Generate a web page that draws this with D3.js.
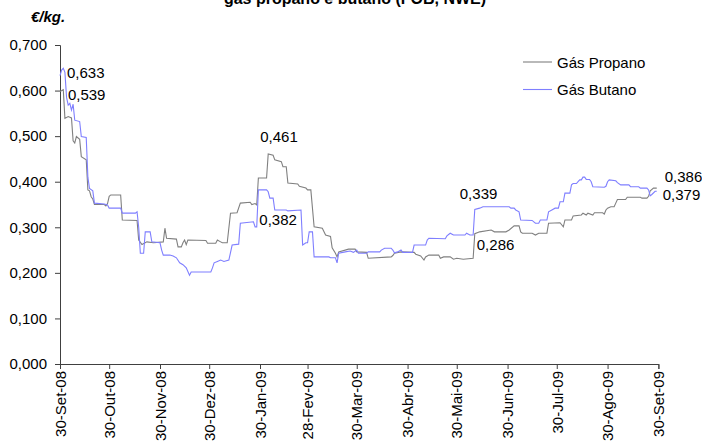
<!DOCTYPE html>
<html>
<head>
<meta charset="utf-8">
<script src="https://cdn.jsdelivr.net/npm/d3@7"></script>
<style>
  html, body { margin: 0; padding: 0; background: #fff; }
  svg { display: block; font-family: "Liberation Sans", Arial, sans-serif; }
</style>
</head>
<body>
<svg id="chart" width="702" height="443"></svg>
<script>
// Daily quotes, €/kg (FOB, NWE)
const propano = [
  ["2008-09-30",0.598],["2008-10-02",0.602],["2008-10-03",0.539],["2008-10-05",0.543],
  ["2008-10-07",0.540],["2008-10-08",0.490],["2008-10-09",0.485],["2008-10-10",0.499],
  ["2008-10-12",0.493],["2008-10-13",0.455],["2008-10-16",0.448],["2008-10-17",0.382],
  ["2008-10-18",0.380],["2008-10-19",0.367],["2008-10-20",0.362],["2008-10-21",0.350],
  ["2008-10-27",0.350],["2008-10-28",0.347],["2008-10-29",0.352],["2008-10-30",0.368],
  ["2008-10-31",0.371],["2008-11-06",0.371],["2008-11-07",0.316],["2008-11-16",0.315],
  ["2008-11-17",0.272],["2008-11-19",0.262],["2008-11-22",0.268],["2008-11-26",0.266],
  ["2008-12-02",0.268],["2008-12-03",0.298],["2008-12-04",0.276],["2008-12-10",0.274],
  ["2008-12-11",0.257],["2008-12-13",0.257],["2008-12-14",0.266],["2008-12-15",0.272],
  ["2008-12-16",0.262],["2008-12-17",0.272],["2008-12-28",0.271],["2008-12-29",0.265],
  ["2009-01-03",0.265],["2009-01-04",0.272],["2009-01-06",0.268],["2009-01-07",0.266],
  ["2009-01-10",0.266],["2009-01-12",0.331],["2009-01-16",0.332],["2009-01-18",0.353],
  ["2009-01-24",0.355],["2009-01-25",0.350],["2009-01-27",0.352],["2009-01-28",0.349],
  ["2009-01-29",0.408],["2009-02-03",0.408],["2009-02-04",0.461],["2009-02-07",0.458],
  ["2009-02-08",0.448],["2009-02-12",0.444],["2009-02-13",0.433],["2009-02-15",0.433],
  ["2009-02-16",0.397],["2009-02-22",0.395],["2009-02-23",0.390],["2009-02-27",0.386],
  ["2009-02-28",0.382],["2009-03-02",0.382],["2009-03-04",0.301],["2009-03-09",0.298],
  ["2009-03-11",0.283],["2009-03-14",0.280],["2009-03-15",0.255],["2009-03-17",0.243],
  ["2009-03-18",0.235],["2009-03-19",0.246],["2009-03-25",0.252],["2009-03-29",0.252],
  ["2009-03-30",0.246],["2009-04-05",0.245],["2009-04-06",0.232],["2009-04-20",0.235],
  ["2009-04-21",0.238],["2009-04-22",0.243],["2009-04-26",0.246],["2009-05-04",0.245],
  ["2009-05-05",0.241],["2009-05-08",0.237],["2009-05-10",0.228],["2009-05-11",0.235],
  ["2009-05-13",0.239],["2009-05-19",0.239],["2009-05-20",0.232],["2009-05-22",0.235],
  ["2009-05-26",0.235],["2009-05-28",0.230],["2009-05-30",0.232],["2009-06-03",0.230],
  ["2009-06-09",0.232],["2009-06-10",0.286],["2009-06-13",0.290],["2009-06-20",0.294],
  ["2009-06-22",0.290],["2009-06-29",0.290],["2009-07-01",0.294],["2009-07-04",0.303],
  ["2009-07-07",0.303],["2009-07-08",0.290],["2009-07-09",0.287],["2009-07-15",0.287],
  ["2009-07-17",0.283],["2009-07-19",0.287],["2009-07-24",0.287],["2009-07-25",0.309],
  ["2009-08-01",0.310],["2009-08-03",0.301],["2009-08-04",0.316],["2009-08-08",0.316],
  ["2009-08-09",0.325],["2009-08-14",0.327],["2009-08-15",0.331],["2009-08-17",0.327],
  ["2009-08-18",0.331],["2009-08-21",0.327],["2009-08-22",0.332],["2009-08-27",0.332],
  ["2009-08-28",0.329],["2009-08-29",0.338],["2009-08-30",0.342],["2009-09-01",0.345],
  ["2009-09-03",0.345],["2009-09-04",0.353],["2009-09-05",0.361],["2009-09-10",0.361],
  ["2009-09-11",0.366],["2009-09-19",0.366],["2009-09-20",0.364],["2009-09-23",0.364],
  ["2009-09-24",0.368],["2009-09-25",0.380],["2009-09-27",0.386],["2009-09-29",0.386]
];

const butano = [
  ["2008-09-30",0.633],["2008-10-01",0.645],["2008-10-02",0.649],["2008-10-03",0.640],
  ["2008-10-04",0.585],["2008-10-05",0.568],["2008-10-06",0.572],["2008-10-07",0.557],
  ["2008-10-08",0.570],["2008-10-09",0.535],["2008-10-12",0.532],["2008-10-13",0.499],
  ["2008-10-16",0.497],["2008-10-17",0.410],["2008-10-18",0.385],["2008-10-20",0.380],
  ["2008-10-21",0.353],["2008-10-27",0.351],["2008-10-29",0.349],["2008-10-30",0.342],
  ["2008-11-06",0.342],["2008-11-07",0.331],["2008-11-15",0.331],["2008-11-16",0.334],
  ["2008-11-17",0.300],["2008-11-18",0.243],["2008-11-20",0.243],["2008-11-21",0.290],
  ["2008-11-24",0.290],["2008-11-25",0.268],["2008-11-30",0.266],["2008-12-01",0.250],
  ["2008-12-02",0.239],["2008-12-06",0.239],["2008-12-08",0.237],["2008-12-10",0.233],
  ["2008-12-12",0.222],["2008-12-14",0.218],["2008-12-16",0.211],["2008-12-18",0.195],
  ["2008-12-19",0.202],["2008-12-31",0.202],["2009-01-01",0.211],["2009-01-02",0.222],
  ["2009-01-04",0.225],["2009-01-06",0.228],["2009-01-08",0.225],["2009-01-11",0.228],
  ["2009-01-13",0.261],["2009-01-17",0.263],["2009-01-18",0.309],["2009-01-26",0.312],
  ["2009-01-27",0.301],["2009-01-28",0.301],["2009-01-29",0.382],["2009-02-03",0.382],
  ["2009-02-04",0.378],["2009-02-05",0.364],["2009-02-07",0.364],["2009-02-08",0.338],
  ["2009-02-15",0.338],["2009-02-16",0.336],["2009-02-24",0.338],["2009-02-25",0.261],
  ["2009-02-27",0.266],["2009-02-28",0.266],["2009-03-01",0.290],["2009-03-03",0.290],
  ["2009-03-04",0.235],["2009-03-13",0.235],["2009-03-14",0.233],["2009-03-17",0.233],
  ["2009-03-18",0.222],["2009-03-19",0.243],["2009-03-23",0.246],["2009-03-26",0.248],
  ["2009-03-28",0.245],["2009-03-30",0.250],["2009-03-31",0.243],["2009-04-05",0.243],
  ["2009-04-06",0.246],["2009-04-13",0.246],["2009-04-14",0.250],["2009-04-16",0.254],
  ["2009-04-20",0.254],["2009-04-21",0.250],["2009-04-22",0.244],["2009-04-24",0.246],
  ["2009-04-26",0.250],["2009-04-27",0.245],["2009-05-03",0.245],["2009-05-04",0.261],
  ["2009-05-11",0.261],["2009-05-12",0.272],["2009-05-13",0.276],["2009-05-23",0.275],
  ["2009-05-24",0.281],["2009-05-26",0.287],["2009-05-28",0.283],["2009-06-04",0.283],
  ["2009-06-05",0.287],["2009-06-07",0.283],["2009-06-09",0.283],["2009-06-10",0.339],
  ["2009-06-13",0.342],["2009-06-15",0.345],["2009-07-01",0.345],["2009-07-02",0.342],
  ["2009-07-04",0.342],["2009-07-05",0.338],["2009-07-07",0.334],["2009-07-08",0.316],
  ["2009-07-15",0.315],["2009-07-16",0.312],["2009-07-17",0.309],["2009-07-19",0.309],
  ["2009-07-20",0.316],["2009-07-24",0.316],["2009-07-25",0.334],["2009-07-27",0.338],
  ["2009-07-29",0.342],["2009-07-31",0.342],["2009-08-01",0.356],["2009-08-03",0.356],
  ["2009-08-04",0.375],["2009-08-07",0.375],["2009-08-08",0.393],["2009-08-09",0.396],
  ["2009-08-11",0.396],["2009-08-12",0.400],["2009-08-13",0.404],["2009-08-14",0.404],
  ["2009-08-15",0.410],["2009-08-16",0.410],["2009-08-17",0.405],["2009-08-19",0.405],
  ["2009-08-20",0.400],["2009-08-21",0.389],["2009-08-28",0.388],["2009-08-29",0.390],
  ["2009-08-30",0.400],["2009-08-31",0.404],["2009-09-04",0.402],["2009-09-05",0.398],
  ["2009-09-07",0.393],["2009-09-12",0.393],["2009-09-13",0.389],["2009-09-18",0.389],
  ["2009-09-19",0.386],["2009-09-23",0.386],["2009-09-24",0.382],["2009-09-25",0.369],
  ["2009-09-26",0.372],["2009-09-28",0.379],["2009-09-29",0.379]
];

const seriesNames = ["Gás Propano", "Gás Butano"];
const seriesColors = ["#808080", "#7f7fff"];

// Axis ticks
const xTickDates = ["2008-09-30","2008-10-30","2008-11-30","2008-12-30","2009-01-30","2009-02-28",
  "2009-03-30","2009-04-30","2009-05-30","2009-06-30","2009-07-30","2009-08-30","2009-09-30"];
const xTickLabels = ["30-Set-08","30-Out-08","30-Nov-08","30-Dez-08","30-Jan-09","28-Fev-09",
  "30-Mar-09","30-Abr-09","30-Mai-09","30-Jun-09","30-Jul-09","30-Ago-09","30-Set-09"];
const yTicks = [0, 0.1, 0.2, 0.3, 0.4, 0.5, 0.6, 0.7];

// Points that carry a value label: series index and date
const labelPoints = [
  [1, "2008-09-30"], [0, "2008-10-03"], [0, "2009-02-04"], [1, "2009-01-29"],
  [1, "2009-06-10"], [0, "2009-06-10"], [0, "2009-09-29"], [1, "2009-09-29"]
];
// label placement relative to its point (dx, dy)
const labelOffsets = [[7, -3], [3, -24], [-8, -17], [1, 30], [-15, -16], [2, 11], [8, -12], [6, 3]];

const parse = d3.timeParse("%Y-%m-%d");
const series = [propano, butano].map(s => s.map(([d, v]) => ({ date: parse(d), value: v })));

const ptLocale = d3.formatLocale({ decimal: ",", thousands: ".", grouping: [3], currency: ["", " €"] });
const fmt = ptLocale.format(".3f");

const svg = d3.select("#chart");
const x = d3.scaleTime()
  .domain([parse(xTickDates[0]), parse(xTickDates[xTickDates.length - 1])])
  .range([60, 658.4]);
const y = d3.scaleLinear().domain([0, 0.7]).range([364, 45]);

const axisColor = "#404040";

// Title (second line of the heading)
svg.append("text")
  .attr("x", 355).attr("y", 4)
  .attr("text-anchor", "middle")
  .style("font-size", "16px").style("font-weight", "bold")
  .text("gás propano e butano (FOB, NWE)");

// Unit
svg.append("text")
  .attr("x", 31).attr("y", 22)
  .style("font-size", "15px").style("font-weight", "bold").style("font-style", "italic")
  .text("€/kg.");

// Y axis
const yAxis = svg.append("g")
  .attr("transform", "translate(60,0)")
  .call(d3.axisLeft(y).tickValues(yTicks).tickFormat(fmt).tickSize(5).tickPadding(8));
yAxis.selectAll("text").style("font-size", "15px").attr("fill", "#000");

// X axis
const xAxis = svg.append("g")
  .attr("transform", "translate(0,364)")
  .call(d3.axisBottom(x)
    .tickValues(xTickDates.map(parse))
    .tickFormat((d, i) => xTickLabels[i])
    .tickSize(5));
xAxis.selectAll("text")
  .style("font-size", "15px").attr("fill", "#000")
  .attr("text-anchor", "end")
  .attr("transform", "rotate(-90)")
  .attr("x", -7).attr("y", 0).attr("dy", "0.35em");

[yAxis, xAxis].forEach(g => {
  g.select(".domain").attr("stroke", axisColor);
  g.selectAll(".tick line").attr("stroke", axisColor);
});

// Lines
const line = d3.line().x(d => x(d.date)).y(d => y(d.value));
series.forEach((s, i) => {
  svg.append("path")
    .datum(s)
    .attr("fill", "none")
    .attr("stroke", seriesColors[i])
    .attr("stroke-width", 1.1)
    .attr("d", line);
});

// Value labels
labelPoints.forEach(([si, ds], i) => {
  const p = series[si].find(d => +d.date === +parse(ds));
  svg.append("text")
    .attr("x", x(p.date) + labelOffsets[i][0])
    .attr("y", y(p.value) + labelOffsets[i][1])
    .attr("dominant-baseline", "central")
    .style("font-size", "15px")
    .text(fmt(p.value));
});

// Legend
const legend = svg.append("g").attr("transform", "translate(523,62)");
seriesNames.forEach((name, i) => {
  const row = legend.append("g").attr("transform", `translate(0,${i * 27.5})`);
  row.append("line").attr("x1", 0).attr("x2", 29).attr("y1", 0).attr("y2", 0)
    .attr("stroke", seriesColors[i]).attr("stroke-width", 1.1);
  row.append("text").attr("x", 34).attr("y", 0).attr("dominant-baseline", "central")
    .style("font-size", "15px").text(name);
});
</script>
</body>
</html>
